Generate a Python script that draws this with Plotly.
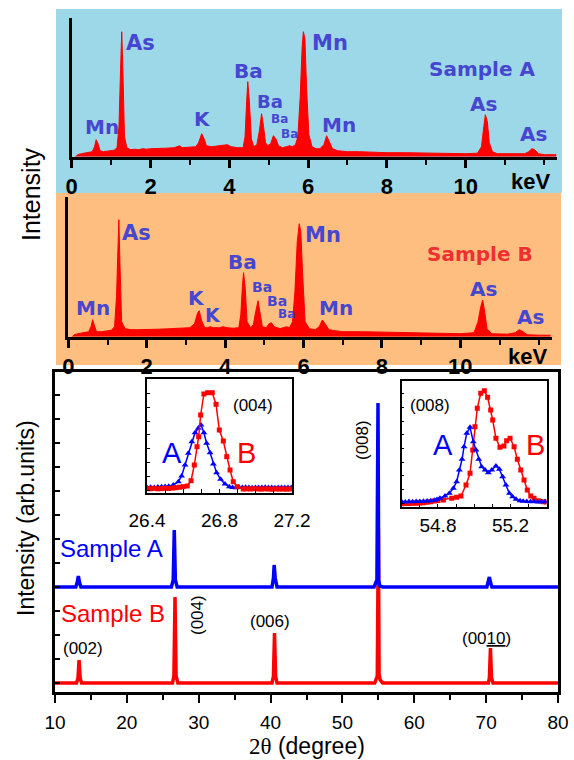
import plotly.graph_objects as go

W, H = 574, 760

# ---------------- EDS spectrum, Sample A (keV, counts in arb. units) -------------
eds_a_kev = [0.10, 0.15, 0.25, 0.35, 0.45, 0.52, 0.58, 0.62, 0.66, 0.72, 0.80, 0.90, 1.00, 1.08,
             1.15, 1.20, 1.24, 1.27, 1.30, 1.34, 1.40, 1.50, 1.60, 1.70, 1.80, 1.90, 2.00, 2.20,
             2.40, 2.60, 2.75, 2.80, 3.00, 3.15, 3.22, 3.30, 3.36, 3.42, 3.55, 3.70, 3.85, 3.95,
             4.05, 4.20, 4.35, 4.40, 4.44, 4.47, 4.51, 4.56, 4.62, 4.70, 4.76, 4.82, 4.87, 4.92,
             4.98, 5.05, 5.12, 5.18, 5.25, 5.35, 5.45, 5.53, 5.60, 5.68, 5.74, 5.80, 5.85, 5.88,
             5.92, 5.96, 6.02, 6.10, 6.20, 6.30, 6.40, 6.47, 6.54, 6.62, 6.75, 7.00, 7.30, 7.60,
             8.00, 8.50, 9.00, 9.50, 10.00, 10.30, 10.40, 10.46, 10.50, 10.55, 10.60, 10.68, 10.80,
             11.20, 11.50, 11.60, 11.68, 11.75, 11.85, 12.00, 12.30]
eds_a_cnt = [0, 2, 3, 3.5, 4, 5, 10, 17, 14, 6, 5, 5.5, 6, 6.5,
             9, 30, 87, 125, 85, 20, 9, 7, 7.5, 7, 8, 7.5, 8, 8,
             8.5, 9, 11, 9, 9.5, 10, 14, 23, 18, 11, 10, 10.5, 11, 12,
             10, 9, 9, 20, 55, 75, 55, 18, 10, 12, 25, 43, 30, 14,
             11, 13, 21, 18, 11, 9, 10, 11, 10, 12, 20, 60, 110, 125,
             118, 70, 22, 10, 8, 8, 12, 21, 15, 8, 6, 5, 5, 4.5,
             4, 4, 3.5, 3.5, 3, 3.5, 10, 30, 42, 35, 14, 5, 3,
             3, 3, 5, 8, 7, 3, 2, 2]

# ---------------- EDS spectrum, Sample B -------------
eds_b_kev = [0.10, 0.15, 0.25, 0.35, 0.45, 0.52, 0.58, 0.62, 0.66, 0.72, 0.85, 1.00, 1.10, 1.18,
             1.23, 1.26, 1.29, 1.32, 1.36, 1.45, 1.60, 1.80, 2.00, 2.30, 2.60, 2.90, 3.10, 3.22,
             3.30, 3.34, 3.40, 3.48, 3.55, 3.62, 3.70, 3.85, 3.95, 4.05, 4.20, 4.35, 4.40, 4.44,
             4.47, 4.51, 4.56, 4.65, 4.72, 4.78, 4.84, 4.89, 4.95, 5.05, 5.12, 5.18, 5.25, 5.40,
             5.50, 5.57, 5.64, 5.72, 5.78, 5.84, 5.89, 5.93, 5.98, 6.04, 6.15, 6.30, 6.40, 6.48,
             6.55, 6.65, 6.80, 7.00, 7.50, 8.00, 8.50, 9.00, 9.50, 10.00, 10.35, 10.45, 10.52,
             10.57, 10.62, 10.68, 10.80, 11.20, 11.40, 11.50, 11.60, 11.70, 12.00, 12.30]
eds_b_cnt = [0, 2, 3, 3.5, 4, 5, 10, 17, 12, 5, 5, 6, 6.5, 10,
             40, 80, 117, 70, 15, 8, 7, 7, 7, 7.5, 8, 8.5, 9, 13,
             24, 26, 16, 9, 9, 10, 9, 9, 10, 9, 8.5, 9, 22, 50,
             64, 50, 15, 9, 12, 25, 36, 24, 10, 9, 13, 14, 10, 8,
             9, 10, 9, 15, 45, 95, 113, 105, 60, 15, 8, 7, 10, 16.7,
             13, 7, 6, 5, 5, 4.5, 4, 4, 3.5, 3, 4, 15, 30,
             36.7, 25, 8, 3, 2.5, 4, 7, 5, 2, 1.5, 1.5]

eds_ticks = [0, 2, 4, 6, 8, 10]

# ---------------- XRD patterns (2theta in degree, intensity arb. units) -------------
xrd_a_2t = [10, 12.9, 13.1, 13.25, 13.4, 13.6, 26.2, 26.45, 26.6, 26.75, 27.0,
            40.2, 40.4, 40.5, 40.65, 40.9, 54.4, 54.8, 54.95, 55.05, 55.2, 55.6,
            70.1, 70.3, 70.45, 70.6, 70.8, 80]
xrd_a_int = [105, 105, 110, 116, 110, 105, 105, 112, 162, 112, 105,
             105, 114, 127, 114, 105, 105, 112, 289, 112, 106, 105,
             105, 110, 115, 110, 105, 105]
xrd_b_2t = [10, 13.0, 13.2, 13.35, 13.5, 13.7, 26.35, 26.55, 26.7, 26.85, 27.1,
            40.2, 40.4, 40.55, 40.7, 40.9, 54.5, 54.85, 55.0, 55.1, 55.25, 55.6,
            70.3, 70.45, 70.6, 70.75, 70.95, 80]
xrd_b_int = [9, 9, 14, 32, 14, 9, 9, 16, 95, 16, 9,
             9, 16, 59, 16, 9, 9, 16, 164, 18, 12, 9,
             9, 14, 44, 14, 9, 9]

# ---------------- inset (004) -------------
in004_a_2t = [26.40, 26.42, 26.44, 26.46, 26.48, 26.50, 26.52, 26.545, 26.573, 26.591, 26.610,
              26.628, 26.647, 26.665, 26.683, 26.698, 26.714, 26.729, 26.748, 26.766, 26.784,
              26.806, 26.830, 26.854, 26.872, 26.890, 26.908, 26.926, 26.944, 26.962, 26.980,
              26.998, 27.016, 27.034, 27.052, 27.070, 27.088, 27.106, 27.124, 27.142, 27.160,
              27.178, 27.196]
in004_a_int = [5.5, 5.8, 5.6, 6.0, 6.2, 6.4, 6.8, 8.0, 11.3, 17, 28,
               39.7, 51.3, 60.3, 64.7, 68, 60.3, 49.7, 40.3, 29, 20.3,
               13.7, 9, 6.3, 5.6, 5.3, 5.6, 5.4, 5.7, 5.5, 5.3,
               5.6, 5.4, 5.5, 5.7, 5.4, 5.6, 5.3, 5.5, 5.6, 5.4,
               5.5, 5.6]
in004_b_2t = [26.40, 26.42, 26.44, 26.46, 26.48, 26.50, 26.52, 26.54, 26.56, 26.58, 26.60,
              26.622, 26.643, 26.661, 26.676, 26.685, 26.696, 26.714, 26.735, 26.760, 26.781,
              26.799, 26.821, 26.840, 26.858, 26.876, 26.898, 26.931, 26.95, 26.97, 26.99,
              27.01, 27.03, 27.05, 27.07, 27.09, 27.11, 27.13, 27.15, 27.17, 27.19]
in004_b_int = [4.5, 4.3, 4.6, 4.2, 4.4, 4.8, 4.5, 5.0, 5.3, 5.8, 6.3,
               7.0, 12.3, 28, 46.3, 56.3, 78, 99, 100.3, 100.3, 88.7,
               63, 52, 36.3, 23, 11.3, 6.3, 4.0, 4.2, 4.0, 4.3,
               4.1, 3.9, 4.2, 4.0, 3.8, 4.1, 3.9, 4.0, 3.8, 4.0]

# ---------------- inset (008) -------------
in008_a_2t = [54.60, 54.62, 54.64, 54.66, 54.68, 54.70, 54.72, 54.74, 54.76, 54.78, 54.795,
              54.811, 54.839, 54.863, 54.885, 54.903, 54.918, 54.933, 54.944, 54.959, 54.977,
              54.995, 55.010, 55.025, 55.041, 55.060, 55.078, 55.097, 55.120, 55.139, 55.157,
              55.175, 55.194, 55.212, 55.231, 55.253, 55.27, 55.29, 55.31, 55.33, 55.35,
              55.37, 55.39]
in008_a_int = [5.6, 5.4, 5.8, 5.5, 5.9, 5.7, 6.0, 6.2, 6.5, 7.0, 7.8,
               9, 11.3, 14, 19, 25.6, 37.3, 48, 60.6, 74, 80,
               65.6, 57.3, 48, 40.6, 37.3, 34.6, 37.3, 41.3, 38, 30.6,
               22.3, 14, 10.6, 8, 6.6, 6.0, 5.8, 5.6, 5.7, 5.4,
               5.6, 5.5]
in008_b_2t = [54.60, 54.62, 54.64, 54.66, 54.68, 54.70, 54.72, 54.74, 54.76, 54.78, 54.80,
              54.830, 54.876, 54.903, 54.927, 54.955, 54.977, 54.992, 55.004, 55.017, 55.036,
              55.056, 55.074, 55.091, 55.102, 55.120, 55.142, 55.164, 55.179, 55.198, 55.220,
              55.238, 55.257, 55.275, 55.293, 55.312, 55.330, 55.354, 55.381, 55.398]
in008_b_int = [3.6, 3.8, 3.7, 4.0, 4.1, 4.3, 4.6, 5.0, 5.5, 6.2, 6.8,
               7.3, 9, 10, 11.3, 22.3, 34, 57.3, 80.6, 99, 114,
               116.6, 110, 97.3, 87.3, 69, 60, 61.3, 66.6, 69, 60.6,
               48, 37.3, 27.3, 17.3, 11.3, 9, 6.6, 5.6, 5.4]

# ---------------------------------------------------------------------------
LBL = "#4646d0"
BLUE = "#0000ff"
RED = "#ff0000"


def px(x):
    return x / W


def py(y):
    return 1 - y / H


fig = go.Figure()

# EDS spectra
fig.add_trace(go.Scatter(x=eds_a_kev, y=eds_a_cnt, mode="lines", fill="tozeroy",
                         line=dict(color=RED, width=1), fillcolor=RED,
                         xaxis="x", yaxis="y", showlegend=False))
fig.add_trace(go.Scatter(x=eds_b_kev, y=eds_b_cnt, mode="lines", fill="tozeroy",
                         line=dict(color=RED, width=1), fillcolor=RED,
                         xaxis="x2", yaxis="y2", showlegend=False))
# XRD
fig.add_trace(go.Scatter(x=xrd_b_2t, y=xrd_b_int, mode="lines",
                         line=dict(color=RED, width=3.5), xaxis="x3", yaxis="y3", showlegend=False))
fig.add_trace(go.Scatter(x=xrd_a_2t, y=xrd_a_int, mode="lines",
                         line=dict(color=BLUE, width=3.5), xaxis="x3", yaxis="y3", showlegend=False))
# inset 004
fig.add_trace(go.Scatter(x=in004_a_2t, y=in004_a_int, mode="lines+markers",
                         line=dict(color=BLUE, width=1.5),
                         marker=dict(symbol="triangle-up", size=6, color=BLUE),
                         xaxis="x4", yaxis="y4", showlegend=False))
fig.add_trace(go.Scatter(x=in004_b_2t, y=in004_b_int, mode="lines+markers",
                         line=dict(color=RED, width=1.5),
                         marker=dict(symbol="square", size=5, color=RED),
                         xaxis="x4", yaxis="y4", showlegend=False))
# inset 008
fig.add_trace(go.Scatter(x=in008_b_2t, y=in008_b_int, mode="lines+markers",
                         line=dict(color=RED, width=1.5),
                         marker=dict(symbol="square", size=5, color=RED),
                         xaxis="x5", yaxis="y5", showlegend=False))
fig.add_trace(go.Scatter(x=in008_a_2t, y=in008_a_int, mode="lines+markers",
                         line=dict(color=BLUE, width=1.5),
                         marker=dict(symbol="triangle-up", size=6, color=BLUE),
                         xaxis="x5", yaxis="y5", showlegend=False))

eds_tickfont = dict(family="Liberation Sans", size=22, color="black", weight="bold")

common_eds_x = dict(showline=True, linewidth=3, linecolor="black", ticks="outside",
                    ticklen=8, tickwidth=2.5, tickcolor="black", automargin=False,
                    tickvals=eds_ticks, ticktext=[str(v) for v in eds_ticks],
                    tickfont=eds_tickfont, showgrid=False, zeroline=False,
                    minor=dict(ticks="outside", dtick=1, tick0=1, ticklen=5, tickwidth=2, tickcolor="black"))
common_eds_y = dict(showline=True, linewidth=3, linecolor="black", ticks="", automargin=False,
                    showticklabels=False, showgrid=False, zeroline=False)

xrd_tickfont = dict(family="Liberation Sans", size=19, color="black")

fig.update_layout(
    template="none",
    width=W, height=H, autosize=False,
    margin=dict(l=0, r=0, t=0, b=0, pad=0, autoexpand=False),
    paper_bgcolor="white", plot_bgcolor="rgba(0,0,0,0)",
    xaxis=dict(domain=[px(71.7), px(556.7)], range=[0, 12.31], anchor="y", **common_eds_x),
    yaxis=dict(domain=[py(156.7), py(18)], range=[0, 138.7], anchor="x", **common_eds_y),
    xaxis2=dict(domain=[px(68.3), px(551.7)], range=[0, 12.33], anchor="y2", **common_eds_x),
    yaxis2=dict(domain=[py(336.7), py(196.7)], range=[0, 140], anchor="x2", **common_eds_y),
    xaxis3=dict(domain=[px(55), px(558)], range=[10, 80], anchor="y3", automargin=False,
                showline=True, mirror=True, linewidth=2.5, linecolor="black",
                ticks="outside", ticklen=8, tickwidth=2, tickcolor="black",
                dtick=10, tick0=10, tickfont=xrd_tickfont, ticklabelstandoff=3,
                showgrid=False, zeroline=False,
                minor=dict(ticks="outside", dtick=5, tick0=15, ticklen=5, tickwidth=2, tickcolor="black")),
    yaxis3=dict(domain=[py(692), py(372)], range=[0, 320], anchor="x3", automargin=False,
                showline=True, mirror=True, linewidth=2.5, linecolor="black",
                ticks="inside", ticklen=5, tickwidth=1.5, tickcolor="black",
                tick0=9, dtick=24, showticklabels=False, showgrid=False, zeroline=False),
    xaxis4=dict(domain=[px(147), px(292)], range=[26.4, 27.2], anchor="y4", automargin=False,
                showline=True, mirror=True, linewidth=1.5, linecolor="black",
                ticks="inside", ticklen=4, tickwidth=1, tickcolor="black",
                tick0=26.4, dtick=0.4, tickfont=xrd_tickfont, ticklabelstandoff=9,
                showgrid=False, zeroline=False,
                minor=dict(ticks="inside", dtick=0.1, ticklen=4, tickwidth=1, tickcolor="black")),
    yaxis4=dict(domain=[py(493), py(379)], range=[0, 114], anchor="x4", automargin=False,
                showline=True, mirror=True, linewidth=1.5, linecolor="black",
                ticks="inside", ticklen=3, tickwidth=1, tickcolor="black",
                tick0=2.5, dtick=13.9, showticklabels=False, showgrid=False, zeroline=False),
    xaxis5=dict(domain=[px(401.7), px(546.7)], range=[54.6, 55.4], anchor="y5", automargin=False,
                showline=True, mirror=True, linewidth=1.5, linecolor="black",
                ticks="inside", ticklen=4, tickwidth=1, tickcolor="black",
                tick0=54.8, dtick=0.4, tickfont=xrd_tickfont, ticklabelstandoff=0,
                showgrid=False, zeroline=False,
                minor=dict(ticks="inside", dtick=0.1, tick0=54.6, ticklen=4, tickwidth=1, tickcolor="black")),
    yaxis5=dict(domain=[py(507.3), py(381)], range=[0, 126.3], anchor="x5", automargin=False,
                showline=True, mirror=True, linewidth=1.5, linecolor="black",
                ticks="inside", ticklen=3, tickwidth=1, tickcolor="black",
                tick0=4, dtick=13.7, showticklabels=False, showgrid=False, zeroline=False),
)

# backgrounds of EDS panels
fig.add_shape(type="rect", xref="paper", yref="paper", x0=px(56), x1=px(562), y0=py(193), y1=py(9),
              fillcolor="#9dd8e9", line=dict(width=0), layer="below")
fig.add_shape(type="rect", xref="paper", yref="paper", x0=px(56), x1=px(561), y0=py(365), y1=py(193),
              fillcolor="#fdbe80", line=dict(width=0), layer="below")

ann = []


def lab(text, x, y, size, color, family="DejaVu Sans", weight="bold", angle=0):
    ann.append(dict(text=text, x=px(x), y=py(y), xref="paper", yref="paper",
                    xanchor="center", yanchor="middle", showarrow=False, textangle=angle,
                    font=dict(family=family, size=size, color=color, weight=weight)))


# EDS A labels
lab("Mn", 101.7, 126.7, 20, LBL)
lab("As", 140.7, 42.7, 21, LBL)
lab("K", 202.7, 119.3, 20, LBL)
lab("Ba", 248.3, 70.7, 20, LBL)
lab("Ba", 270, 101.5, 18, LBL)
lab("Ba", 279, 119.5, 12, LBL)
lab("Ba", 289, 134.5, 12, LBL)
lab("Mn", 330, 42.7, 21, LBL)
lab("Mn", 339.3, 125, 20, LBL)
lab("Sample A", 481.7, 69.3, 20, LBL)
lab("As", 483.3, 104, 20, LBL)
lab("As", 533.3, 134, 20, LBL)
lab("keV", 530, 181, 22, "black", family="Liberation Sans")
# EDS B labels
lab("Mn", 92.7, 308.3, 20, LBL)
lab("As", 136, 233.3, 21, LBL)
lab("K", 196.7, 298.3, 20, LBL)
lab("K", 212.7, 315, 19, LBL)
lab("Ba", 242.7, 261.7, 20, LBL)
lab("Ba", 261.7, 286.7, 14, LBL)
lab("Ba", 276.7, 300.7, 14, LBL)
lab("Ba", 286, 314, 12, LBL)
lab("Mn", 322.7, 235, 21, LBL)
lab("Mn", 336, 308.3, 20, LBL)
lab("Sample B", 480, 254, 20, "#f03030")
lab("As", 483.3, 289.3, 20, LBL)
lab("As", 530, 317.3, 20, LBL)
lab("keV", 527, 356, 22, "black", family="Liberation Sans")

# axis titles
lab("Intensity", 31, 194, 25, "black", family="Liberation Sans", weight="normal", angle=-90)
lab("Intensity (arb.units)", 26, 518, 23, "black", family="Liberation Sans", weight="normal", angle=-90)
lab('<span style="font-family:Liberation Serif">2θ</span> (degree)', 307, 746, 23, "black",
    family="Liberation Sans", weight="normal")

# XRD labels
lab("Sample A", 111.7, 548.3, 24, BLUE, family="Liberation Sans", weight="normal")
lab("Sample B", 113.3, 613.3, 24, RED, family="Liberation Sans", weight="normal")
lab("(002)", 83.3, 648.3, 17, "black", family="Liberation Sans", weight="normal")
lab("(004)", 197, 615, 17, "black", family="Liberation Sans", weight="normal", angle=-90)
lab("(006)", 270, 621.7, 17, "black", family="Liberation Sans", weight="normal")
lab("(008)", 362, 440, 17, "black", family="Liberation Sans", weight="normal", angle=-90)
lab('(00<span style="text-decoration:underline">10</span>)', 486.7, 638.3, 17, "black",
    family="Liberation Sans", weight="normal")
# inset labels
lab("A", 171.7, 453.3, 29, BLUE, family="Liberation Sans", weight="normal")
lab("B", 246.7, 453.3, 29, RED, family="Liberation Sans", weight="normal")
lab("(004)", 253.3, 405, 17, "black", family="Liberation Sans", weight="normal")
lab("A", 443.3, 445, 29, BLUE, family="Liberation Sans", weight="normal")
lab("B", 535, 445, 29, RED, family="Liberation Sans", weight="normal")
lab("(008)", 430, 405, 17, "black", family="Liberation Sans", weight="normal")

fig.update_layout(annotations=ann)

fig.write_html("out.html", config={"responsive": False, "displayModeBar": False},
               post_script="document.body.style.margin='0';document.body.style.overflow='hidden';")
